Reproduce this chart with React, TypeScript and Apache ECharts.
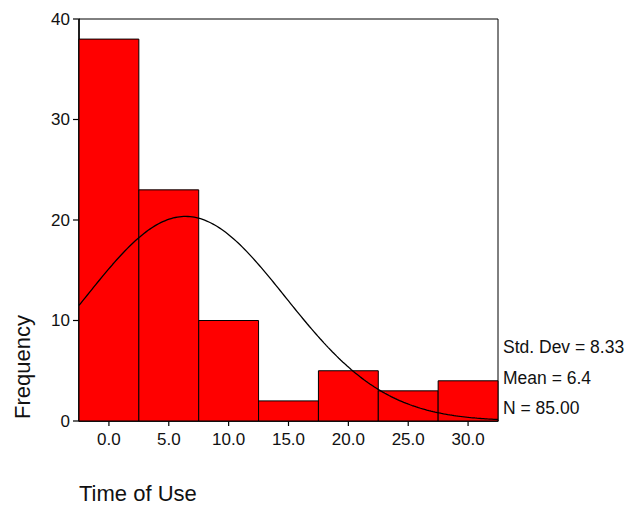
import React, { useEffect, useRef } from "react";
import * as echarts from "echarts";

// Histogram bins (centre of each 5-unit bin) and their counts
const binCenters = [0, 5, 10, 15, 20, 25, 30];
const binCounts = [38, 23, 10, 2, 5, 3, 4];
const binWidth = 5;

// Summary statistics shown beside the plot
const stdDev = 8.33;
const mean = 6.4;
const nCases = 85;

const xTicks = [0, 5, 10, 15, 20, 25, 30];
const yTicks = [0, 10, 20, 30, 40];

const xMin = -2.5;
const xMax = 32.5;

// Fitted normal curve, scaled to counts per bin
function normalCurve(): number[][] {
  const pts: number[][] = [];
  const steps = 200;
  for (let i = 0; i <= steps; i++) {
    const x = xMin + ((xMax - xMin) * i) / steps;
    const z = (x - mean) / stdDev;
    const y = ((nCases * binWidth) / (stdDev * Math.sqrt(2 * Math.PI))) * Math.exp(-0.5 * z * z);
    pts.push([x, y]);
  }
  return pts;
}

export default function App() {
  const ref = useRef<HTMLDivElement>(null);

  useEffect(() => {
    if (!ref.current) return;
    const chart = echarts.init(ref.current, null, { renderer: "svg" });
    const font = "Arial, 'Liberation Sans', sans-serif";

    chart.setOption({
      animation: false,
      backgroundColor: "#ffffff",
      grid: {
        left: 79,
        top: 19,
        width: 419,
        height: 402,
        show: true,
        borderColor: "#000",
        borderWidth: 1,
        backgroundColor: "transparent",
      },
      xAxis: {
        type: "value",
        min: xMin,
        max: xMax,
        axisLine: { show: true, onZero: false, lineStyle: { color: "#000", width: 1.5 } },
        axisTick: { show: false },
        axisLabel: {
          color: "#111",
          fontSize: 17,
          fontFamily: font,
          margin: 10,
          customValues: xTicks,
          formatter: (v: number) => v.toFixed(1),
        },
        splitLine: { show: false },
      },
      yAxis: {
        type: "value",
        min: 0,
        max: 40,
        interval: 10,
        axisLine: { show: true, onZero: false, lineStyle: { color: "#000", width: 1.5 } },
        axisTick: { show: false },
        axisLabel: { color: "#111", fontSize: 17, fontFamily: font, margin: 9 },
        splitLine: { show: false },
      },
      series: [
        {
          type: "custom",
          clip: false,
          data: binCenters.map((c, i) => [c, binCounts[i]]),
          renderItem: (params: any, api: any) => {
            const c = api.value(0);
            const v = api.value(1);
            const p0 = api.coord([c - binWidth / 2, v]);
            const p1 = api.coord([c + binWidth / 2, 0]);
            const children: any[] = [
              {
                type: "rect",
                shape: { x: p0[0], y: p0[1], width: p1[0] - p0[0], height: p1[1] - p0[1] },
                style: { fill: "#ff0000", stroke: "#000", lineWidth: 1 },
              },
            ];
            // outward tick under this bin's label
            const t = api.coord([xTicks[params.dataIndex], 0]);
            children.push({
              type: "rect",
              shape: { x: t[0] - 0.6, y: t[1] + 0.5, width: 1.2, height: 4.5 },
              style: { fill: "#000" },
            });
            // value-axis ticks, drawn once with the first bin
            if (params.dataIndex === 0) {
              yTicks.forEach((yv) => {
                const q = api.coord([xMin, yv]);
                children.push({
                  type: "rect",
                  shape: { x: q[0] - 6, y: q[1] - 0.6, width: 5.5, height: 1.2 },
                  style: { fill: "#000" },
                });
              });
            }
            return { type: "group", children };
          },
          z: 2,
        },
        {
          type: "line",
          data: normalCurve(),
          showSymbol: false,
          smooth: false,
          lineStyle: { color: "#000", width: 1.3 },
          z: 3,
        },
      ],
      graphic: [
        {
          type: "text",
          x: 33,
          y: 419,
          rotation: Math.PI / 2,
          style: {
            text: "Frequency",
            fill: "#111",
            font: `22px ${font}`,
            textAlign: "left",
            verticalAlign: "bottom",
          },
        },
        {
          type: "text",
          x: 79,
          y: 493,
          style: { text: "Time of Use", fill: "#111", font: `22px ${font}`, verticalAlign: "middle" },
        },
        {
          type: "text",
          x: 503,
          y: 347,
          style: { text: `Std. Dev = ${stdDev.toFixed(2)}`, fill: "#111", font: `17.5px ${font}`, verticalAlign: "middle" },
        },
        {
          type: "text",
          x: 503,
          y: 378,
          style: { text: `Mean = ${mean.toFixed(1)}`, fill: "#111", font: `17.5px ${font}`, verticalAlign: "middle" },
        },
        {
          type: "text",
          x: 503,
          y: 408,
          style: { text: `N = ${nCases.toFixed(2)}`, fill: "#111", font: `17.5px ${font}`, verticalAlign: "middle" },
        },
      ],
    });
    return () => chart.dispose();
  }, []);

  return <div ref={ref} style={{ width: 632, height: 505, position: "absolute", left: 0, top: 0 }} />;
}
